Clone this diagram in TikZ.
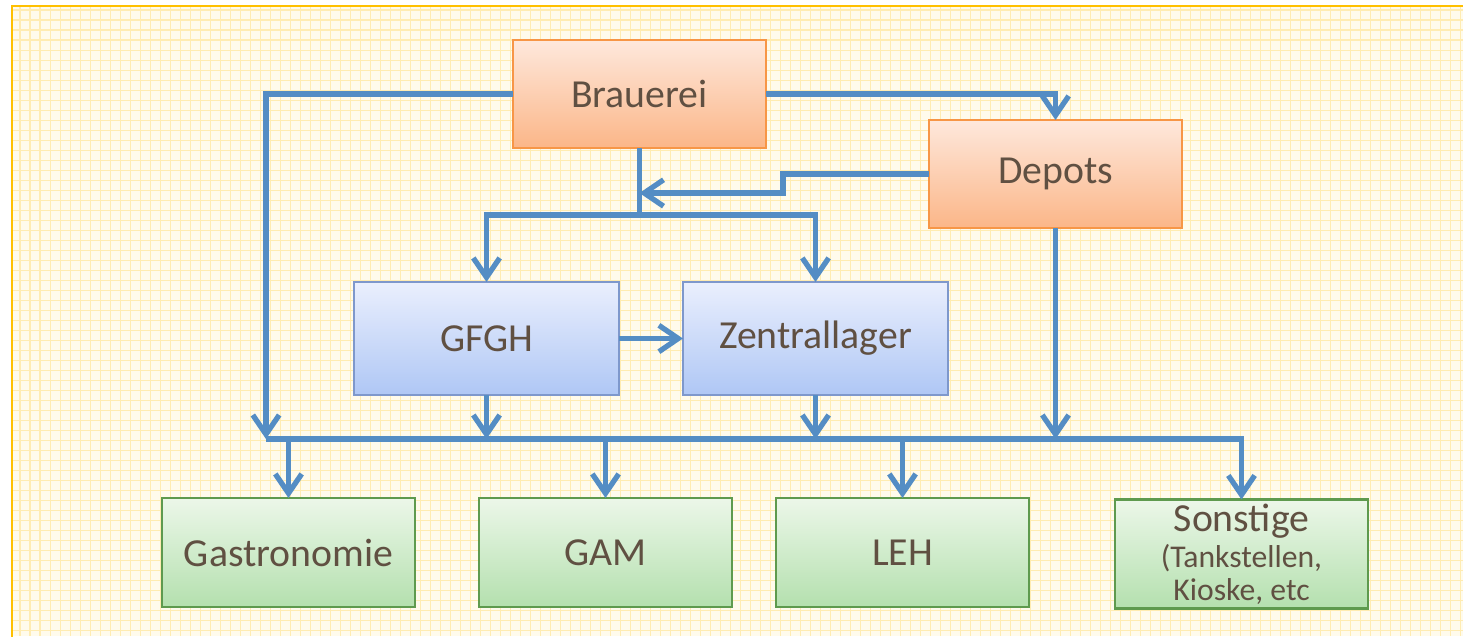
\documentclass[tikz,border=0pt]{standalone}
\usepackage{fontspec}
\setmainfont{Carlito}
\usetikzlibrary{arrows.meta}

\definecolor{flowblue}{RGB}{84,141,196}
\definecolor{textbrown}{RGB}{96,80,66}
\definecolor{frameyellow}{RGB}{255,192,0}
\definecolor{paper}{RGB}{255,251,236}
\definecolor{paperline}{RGB}{255,236,178}
\definecolor{orangeline}{RGB}{247,150,70}
\definecolor{orangetop}{RGB}{254,232,220}
\definecolor{orangebot}{RGB}{251,182,136}
\definecolor{blueline}{RGB}{126,152,204}
\definecolor{bluetop}{RGB}{234,239,253}
\definecolor{bluebot}{RGB}{175,199,245}
\definecolor{greenline}{RGB}{94,154,78}
\definecolor{greentop}{RGB}{236,247,233}
\definecolor{greenbot}{RGB}{180,224,174}

\newcommand{\smalltxt}{\fontsize{9}{9}\selectfont}

\tikzset{
  box/.style={draw, line width=0.7pt, inner sep=0pt, outer sep=0pt,
    minimum width=2.53cm, minimum height=1.08cm, align=center,
    text=textbrown, font=\fontsize{11.3}{13}\selectfont},
  brewbox/.style={box, draw=orangeline, top color=orangetop, bottom color=orangebot},
  tradebox/.style={box, draw=blueline, top color=bluetop, bottom color=bluebot,
    minimum width=2.65cm, minimum height=1.13cm},
  shopbox/.style={box, draw=greenline, top color=greentop, bottom color=greenbot,
    minimum height=1.09cm},
  flow/.style={draw=flowblue, line width=1.5pt},
}

\begin{document}
\begin{tikzpicture}[x=0.01cm, y=-0.01cm, >={Straight Barb[length=5.5pt,width=7.5pt]}]
  \useasboundingbox (0,0) rectangle (1463,636);
  % background
  \fill[paper] (12,6) rectangle (1463,636);
  \draw[paperline, line width=0.3pt, step=1mm] (12,6) grid (1463,636);
  \draw[frameyellow, line width=0.7pt] (12,700) -- (12,6) -- (1500,6);

  \node[brewbox] (brau) at (639.5,94) {Brauerei};
  \node[brewbox] (depots) at (1055.5,174) {Depots};
  \node[tradebox] (gfgh) at (486.5,338.5) {GFGH};
  \node[tradebox] (zentral) at (815.5,338.5) {Zentrallager};
  \node[shopbox] (gastro) at (288.5,552.5) {Gastronomie};
  \node[shopbox] (gam) at (605.5,552.5) {GAM};
  \node[shopbox] (leh) at (902.5,552.5) {LEH};
  \node[shopbox] (sonst) at (1241.5,554) {Sonstige\\[-2.6pt]
    {\smalltxt(Tankstellen,}\\[-3.8pt]{\smalltxt Kioske, etc}};

  \coordinate (split) at (639.5,215);
  \coordinate (jog) at (783,193);
  \coordinate (busL) at (266,439);
  \coordinate (busR) at (1241.5,439);

  \draw[flow] (brau.south) -- (split);
  \draw[flow,->] (split) -| (gfgh.north);
  \draw[flow,->] (split) -| (zentral.north);
  \draw[flow,->] (brau.west) -| (busL);
  \draw[flow,->] (brau.east) -| (depots.north);
  \draw[flow,->] (depots.west) -| (jog) -- (brau.south |- jog);
  \draw[flow,->] (gfgh.east) -- (zentral.west);
  \draw[flow,->] (gfgh.south) -- (gfgh.south |- busL);
  \draw[flow,->] (zentral.south) -- (zentral.south |- busL);
  \draw[flow,->] (depots.south) -- (depots.south |- busL);
  \draw[flow,->] (busL) -- (busR) -- (sonst.north);
  \draw[flow,->] (gastro.north |- busL) -- (gastro.north);
  \draw[flow,->] (gam.north |- busL) -- (gam.north);
  \draw[flow,->] (leh.north |- busL) -- (leh.north);
\end{tikzpicture}
\end{document}
